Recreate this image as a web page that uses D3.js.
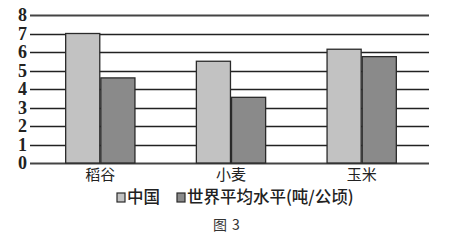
<!DOCTYPE html>
<html>
<head>
<meta charset="utf-8">
<script src="https://cdn.jsdelivr.net/npm/d3@7"></script>
<style>
  body { margin: 0; background: #fff; }
  svg { display: block; }
</style>
</head>
<body>
<div id="chart"></div>
<script>
// data
var categories = ["稻谷", "小麦", "玉米"];
var chinaValues = [7.0, 5.5, 6.15];
var worldValues = [4.6, 3.55, 5.75];
var yTicks = [0, 1, 2, 3, 4, 5, 6, 7, 8];
var seriesNames = ["中国", "世界平均水平(吨/公顷)"];

// init size
var width = 451, height = 241;
var plotLeft = 30, plotRight = 429;
var plotTop = 15, plotBottom = 163;

var svg = d3.select("#chart").append("svg")
    .attr("width", width)
    .attr("height", height);

// init scales
var y = d3.scaleLinear()
    .domain([0, 8])
    .range([plotBottom, plotTop]);

var x = d3.scaleBand()
    .domain(categories)
    .range([plotLeft + 3, plotRight])
    .paddingInner(0.47)
    .paddingOuter(0.25);

var sub = d3.scaleBand()
    .domain([0, 1])
    .range([0, x.bandwidth()])
    .paddingInner(0.03);

var fills = ["#c2c2c2", "#8a8a8a"];

// gridlines
svg.append("g")
    .selectAll("line")
    .data(yTicks)
    .enter().append("line")
    .attr("x1", plotLeft)
    .attr("x2", plotRight)
    .attr("y1", d => Math.round(y(d)) + 0.5)
    .attr("y2", d => Math.round(y(d)) + 0.5)
    .attr("stroke", d => (d == 0 || d == 8) ? "#444" : "#222")
    .attr("stroke-width", d => (d == 0 || d == 8) ? 2 : 1.3);

// tick labels
svg.append("g")
    .selectAll("text")
    .data(yTicks)
    .enter().append("text")
    .attr("x", 27)
    .attr("y", d => y(d))
    .attr("dy", "0.35em")
    .attr("text-anchor", "end")
    .attr("font-family", "Liberation Serif, serif")
    .attr("font-weight", "bold")
    .attr("font-size", 18)
    .attr("fill", "#222")
    .text(d => d);

// bars
var series = [chinaValues, worldValues];
series.forEach(function(values, i) {
    svg.append("g")
        .selectAll("rect")
        .data(values)
        .enter().append("rect")
        .attr("x", (d, j) => x(categories[j]) + sub(i))
        .attr("y", d => y(d))
        .attr("width", sub.bandwidth())
        .attr("height", d => plotBottom - y(d))
        .attr("fill", fills[i])
        .attr("stroke", "#2a2a2a")
        .attr("stroke-width", 1.3);
});

// category labels
svg.append("g")
    .selectAll("text")
    .data(categories)
    .enter().append("text")
    .attr("x", d => x(d) + x.bandwidth() / 2)
    .attr("y", 175)
    .attr("dy", "0.35em")
    .attr("text-anchor", "middle")
    .attr("font-family", "Noto Sans CJK SC, sans-serif")
    .attr("font-size", 15)
    .attr("fill", "#222")
    .text(d => d);

// legend
var legendX = [117, 177];
var legend = svg.append("g")
    .selectAll("g")
    .data(seriesNames)
    .enter().append("g")
    .attr("transform", (d, i) => "translate(" + legendX[i] + ",193)");

legend.append("rect")
    .attr("width", 8)
    .attr("height", 9)
    .attr("fill", (d, i) => fills[i])
    .attr("stroke", "#2a2a2a")
    .attr("stroke-width", 1.2);

legend.append("text")
    .attr("x", 10)
    .attr("y", 4.5)
    .attr("dy", "0.35em")
    .attr("font-family", "Noto Sans CJK SC, sans-serif")
    .attr("font-size", 16.5)
    .attr("font-weight", 500)
    .attr("fill", "#222")
    .text(d => d);

// caption
var caption = svg.append("text")
    .attr("y", 225)
    .attr("dy", "0.35em")
    .attr("font-family", "Noto Sans CJK SC, sans-serif")
    .attr("font-size", 14)
    .attr("fill", "#333");
caption.append("tspan").attr("x", 213).text("图");
caption.append("tspan").attr("x", 232).text("3");
</script>
</body>
</html>
